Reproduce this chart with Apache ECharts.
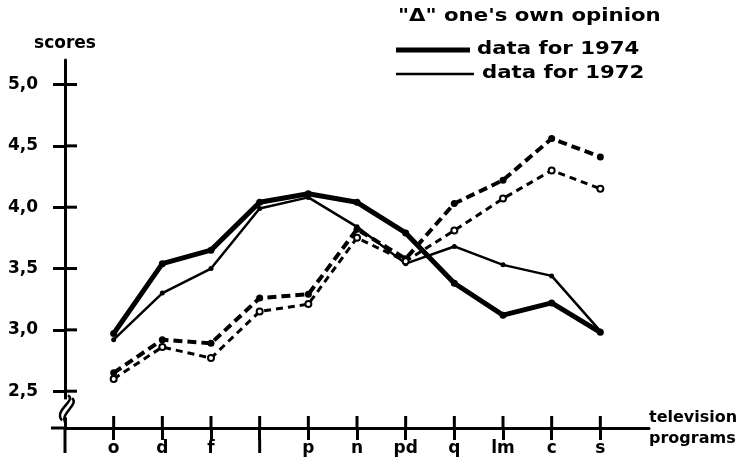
<!DOCTYPE html>
<html>
<head>
<meta charset="utf-8">
<script src="https://cdn.jsdelivr.net/npm/echarts@6/dist/echarts.min.js"></script>
<style>
  html, body { margin: 0; padding: 0; background: #fff; }
  #chart { width: 749px; height: 467px; }
</style>
</head>
<body>
<div id="chart"></div>
<script>
// programmes (blank slot at the origin and after the last one)
const programs = ['', 'o', 'd', 'f', 'l', 'p', 'n', 'pd', 'q', 'lm', 'c', 's', '']
const scoreTicks = [2.5, 3.0, 3.5, 4.0, 4.5, 5.0]

// solid lines
const data1974 = [null, 2.97, 3.54, 3.65, 4.04, 4.11, 4.04, 3.79, 3.38, 3.12, 3.22, 2.98, null]
const data1972 = [null, 2.92, 3.30, 3.50, 3.99, 4.08, 3.84, 3.54, 3.68, 3.53, 3.44, 2.99, null]
// dashed lines: "one's own opinion"
const opinion1974 = [null, 2.65, 2.92, 2.89, 3.26, 3.29, 3.82, 3.58, 4.03, 4.22, 4.56, 4.41, null]
const opinion1972 = [null, 2.60, 2.86, 2.77, 3.15, 3.21, 3.75, 3.56, 3.81, 4.07, 4.30, 4.15, null]

const font = 'DejaVu Sans'
const chart = echarts.init(document.getElementById('chart'))

const tickShow = (i) => i > 0 && i < programs.length - 1
const axisFont = { color: '#000', fontFamily: font, fontWeight: 'bold', fontSize: 17 }

chart.setOption({
  animation: false,
  grid: { left: 65, right: 100, top: 60, bottom: 39 },
  xAxis: {
    type: 'category',
    data: programs,
    boundaryGap: false,
    axisLine: { lineStyle: { color: '#000', width: 3 } },
    axisTick: { interval: tickShow, length: 12, lineStyle: { color: '#000', width: 3 } },
    axisLabel: Object.assign({ interval: tickShow, margin: 12 }, axisFont),
    name: 'television\nprograms',
    nameLocation: 'end',
    nameGap: 0,
    nameTextStyle: { color: '#000', fontFamily: font, fontWeight: 'bold', fontSize: 16, lineHeight: 21, align: 'left', verticalAlign: 'middle', padding: [8, 0, 0, 0] }
  },
  yAxis: {
    type: 'value',
    min: 2.2,
    max: 5.2,
    splitLine: { show: false },
    axisLine: { show: true, lineStyle: { color: '#000', width: 3 } },
    axisTick: { show: true, customValues: scoreTicks, length: 12, lineStyle: { color: '#000', width: 3 } },
    axisLabel: Object.assign({
      customValues: scoreTicks,
      margin: 27,
      formatter: (v) => v.toFixed(1).replace('.', ',')
    }, axisFont),
    name: 'scores',
    nameLocation: 'end',
    nameGap: 8,
    nameTextStyle: Object.assign({ align: 'center' }, axisFont)
  },
  series: [
    {
      name: 'data for 1974',
      type: 'line',
      data: data1974,
      symbol: 'circle', symbolSize: 7,
      itemStyle: { color: '#000' },
      lineStyle: { color: '#000', width: 5 }
    },
    {
      name: 'data for 1972',
      type: 'line',
      data: data1972,
      symbol: 'circle', symbolSize: 5,
      itemStyle: { color: '#000' },
      lineStyle: { color: '#000', width: 2.5 }
    },
    {
      name: "one's own opinion 1974",
      type: 'line',
      data: opinion1974,
      symbol: 'circle', symbolSize: 7,
      itemStyle: { color: '#000' },
      lineStyle: { color: '#000', width: 4, type: [9, 5] }
    },
    {
      name: "one's own opinion 1972",
      type: 'line',
      data: opinion1972,
      symbol: 'emptyCircle', symbolSize: 6,
      itemStyle: { color: '#000', borderWidth: 2 },
      lineStyle: { color: '#000', width: 3, type: [7, 5] }
    }
  ]
})

// decoration: inner half of the crossing ticks, axis extensions, axis break, legend
const px = (x, y) => chart.convertToPixel({ xAxisIndex: 0, yAxisIndex: 0 }, [x, y])
const origin = px(0, 2.2)
const deco = []
const tickStyle = { stroke: '#000', lineWidth: 3 }
programs.forEach((p, i) => {
  if (!tickShow(i)) return
  const pt = px(i, 2.2)
  deco.push({ type: 'line', shape: { x1: pt[0], y1: pt[1], x2: pt[0], y2: pt[1] - 12 }, style: tickStyle })
})
scoreTicks.forEach((v) => {
  const pt = px(0, v)
  deco.push({ type: 'line', shape: { x1: pt[0], y1: pt[1], x2: pt[0] + 12, y2: pt[1] }, style: tickStyle })
})
deco.push(
  { type: 'line', shape: { x1: origin[0], y1: origin[1], x2: origin[0], y2: origin[1] + 25 }, style: tickStyle },
  { type: 'line', shape: { x1: origin[0] - 14, y1: origin[1], x2: origin[0], y2: origin[1] }, style: tickStyle }
)
const brk = px(0, 2.36)
const bx = brk[0], by = brk[1]
deco.push(
  { type: 'rect', shape: { x: bx - 4, y: by - 9, width: 8, height: 18 }, style: { fill: '#fff' }, z: 10 },
  { type: 'bezierCurve', shape: { x1: bx + 3, y1: by - 13, cpx1: bx + 12, cpy1: by - 8, cpx2: bx - 12, cpy2: by + 2, x2: bx - 3, y2: by + 12 }, style: { stroke: '#000', lineWidth: 2.5, fill: null }, z: 11 },
  { type: 'bezierCurve', shape: { x1: bx + 7, y1: by - 10, cpx1: bx + 15, cpy1: by - 4, cpx2: bx - 7, cpy2: by + 6, x2: bx + 1, y2: by + 15 }, style: { stroke: '#000', lineWidth: 2.5, fill: null }, z: 11 }
)

// legend
const legendText = (text, x, y) => ({
  type: 'text', x: x, y: y, scaleX: 1.25,
  style: { text: text, fill: '#000', font: 'bold 17px "DejaVu Sans"', verticalAlign: 'middle' }
})
deco.push(
  legendText('"\u0394" one\'s own opinion', 398, 17),
  { type: 'line', shape: { x1: 396, y1: 50, x2: 470, y2: 50 }, style: { stroke: '#000', lineWidth: 5 } },
  legendText('data for 1974', 477, 50),
  { type: 'line', shape: { x1: 396, y1: 74, x2: 474, y2: 74 }, style: { stroke: '#000', lineWidth: 2.5 } },
  legendText('data for 1972', 482, 74)
)
chart.setOption({ graphic: deco })
</script>
</body>
</html>
